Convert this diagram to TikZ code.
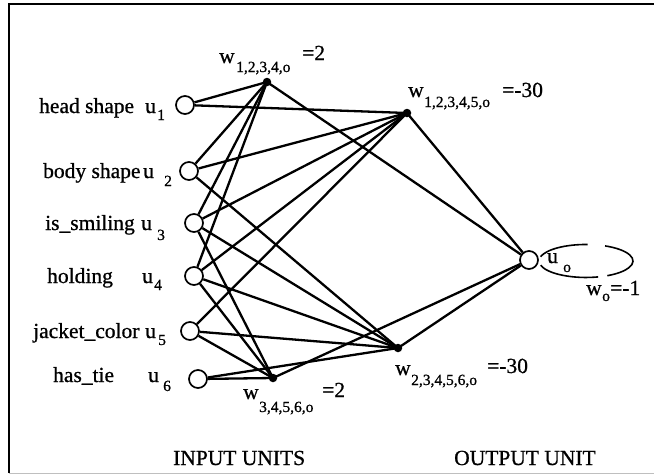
\documentclass[tikz,border=0pt]{standalone}
\usepackage{fontspec}
\setmainfont{Liberation Serif}[FakeBold=0.8]
\begin{document}
\begin{tikzpicture}[x=1pt,y=-1pt,
  inp/.style={circle,draw,line width=1.7pt,fill=white,minimum size=18pt,inner sep=0},
  dot/.style={circle,fill,inner sep=0,minimum size=8.5pt},
  conn/.style={line width=2.3pt},
  lbl/.style={anchor=base west,inner sep=0,font=\fontsize{21.5}{24}\selectfont},
  sub/.style={anchor=base west,inner sep=0,font=\fontsize{15.5}{18}\selectfont},
  loopline/.style={line width=1.6pt},
  frame/.style={line width=2pt}
]
\useasboundingbox (0,0) rectangle (654,475);
% frame
\draw[frame] (9,473) -- (9,4) -- (654,4);
\draw[line width=1pt,black!25] (9,473) -- (654,473);
% self loop of output unit (dashed ellipse)
\draw[loopline] (540.6,256.7) arc[start angle=165,end angle=88,x radius=47pt,y radius=16.5pt];
\draw[loopline] (605.1,245.9) arc[start angle=66,end angle=-63,x radius=47pt,y radius=16.5pt];
\draw[loopline] (598.2,276.9) arc[start angle=-75,end angle=-165,x radius=47pt,y radius=16.5pt];
% units
\node[inp] (u1) at (185,105) {};
\node[inp] (u2) at (189,171) {};
\node[inp] (u3) at (194,223) {};
\node[inp] (u4) at (194,276) {};
\node[inp] (u5) at (190,331) {};
\node[inp] (u6) at (198,379) {};
\node[dot] (h1) at (267,82) {};
\node[dot] (h2) at (273,378) {};
\node[dot] (h3) at (407,113) {};
\node[dot] (h4) at (398,348) {};
\node[inp] (uo) at (529,260) {};
% connectors
\foreach \u in {u1,u2,u3,u4} \draw[conn] (\u) -- (h1.center);
\foreach \u in {u3,u4,u5,u6} \draw[conn] (\u) -- (h2.center);
\foreach \u in {u1,u2,u3,u4,u5} \draw[conn] (\u) -- (h3.center);
\foreach \u in {u2,u3,u4,u5,u6} \draw[conn] (\u) -- (h4.center);
\foreach \h in {h1,h2,h3,h4} \draw[conn] (\h.center) -- (uo);
% input labels
\node[lbl] (t1) at (39,113) {head shape};
\node[lbl] (t1u) at (145,113) {u};
\node[sub] (t1s) at (157,120) {1};
\node[lbl] (t2) at (43,178) {body shape};
\node[lbl] (t2u) at (143,178) {u};
\node[sub] (t2s) at (164,186) {2};
\node[lbl] (t3) at (45,230) {is\_smiling};
\node[lbl] (t3u) at (141,230) {u};
\node[sub] (t3s) at (157,240) {3};
\node[lbl] (t4) at (47,283) {holding};
\node[lbl] (t4u) at (142,283) {u};
\node[sub] (t4s) at (154,290) {4};
\node[lbl] (t5) at (33,338) {jacket\_color};
\node[lbl] (t5u) at (145,338) {u};
\node[sub] (t5s) at (158,345) {5};
\node[lbl] (t6) at (53,382) {has\_tie};
\node[lbl] (t6u) at (148,382) {u};
\node[sub] (t6s) at (163,391) {6};
% weight labels
\node[lbl] (w1) at (219,63) {w};
\node[sub] (w1s) at (236,72) {1,2,3,4,o};
\node[lbl] (w1v) at (302,60) {=2};
\node[lbl] (w3) at (408,97) {w};
\node[sub] (w3s) at (424,107) {1,2,3,4,5,o};
\node[lbl] (w3v) at (502,97) {=-30};
\node[lbl] (w2) at (243,399) {w};
\node[sub] (w2s) at (259,412) {3,4,5,6,o};
\node[lbl] (w2v) at (322,397) {=2};
\node[lbl] (w4) at (395,375) {w};
\node[sub] (w4s) at (411,385) {2,3,4,5,6,o};
\node[lbl] (w4v) at (487,373) {=-30};
% output labels
\node[lbl] (uol) at (547,263) {u};
\node[sub] (uols) at (563,272) {o};
\node[lbl] (wo) at (586,295) {w};
\node[sub] (wos) at (602,301) {o};
\node[lbl] (wov) at (610,295) {=-1};
% captions
\node[lbl] (cin) at (173,465) {INPUT UNITS};
\node[lbl] (cout) at (454,465) {OUTPUT UNIT};
\end{tikzpicture}
\end{document}
